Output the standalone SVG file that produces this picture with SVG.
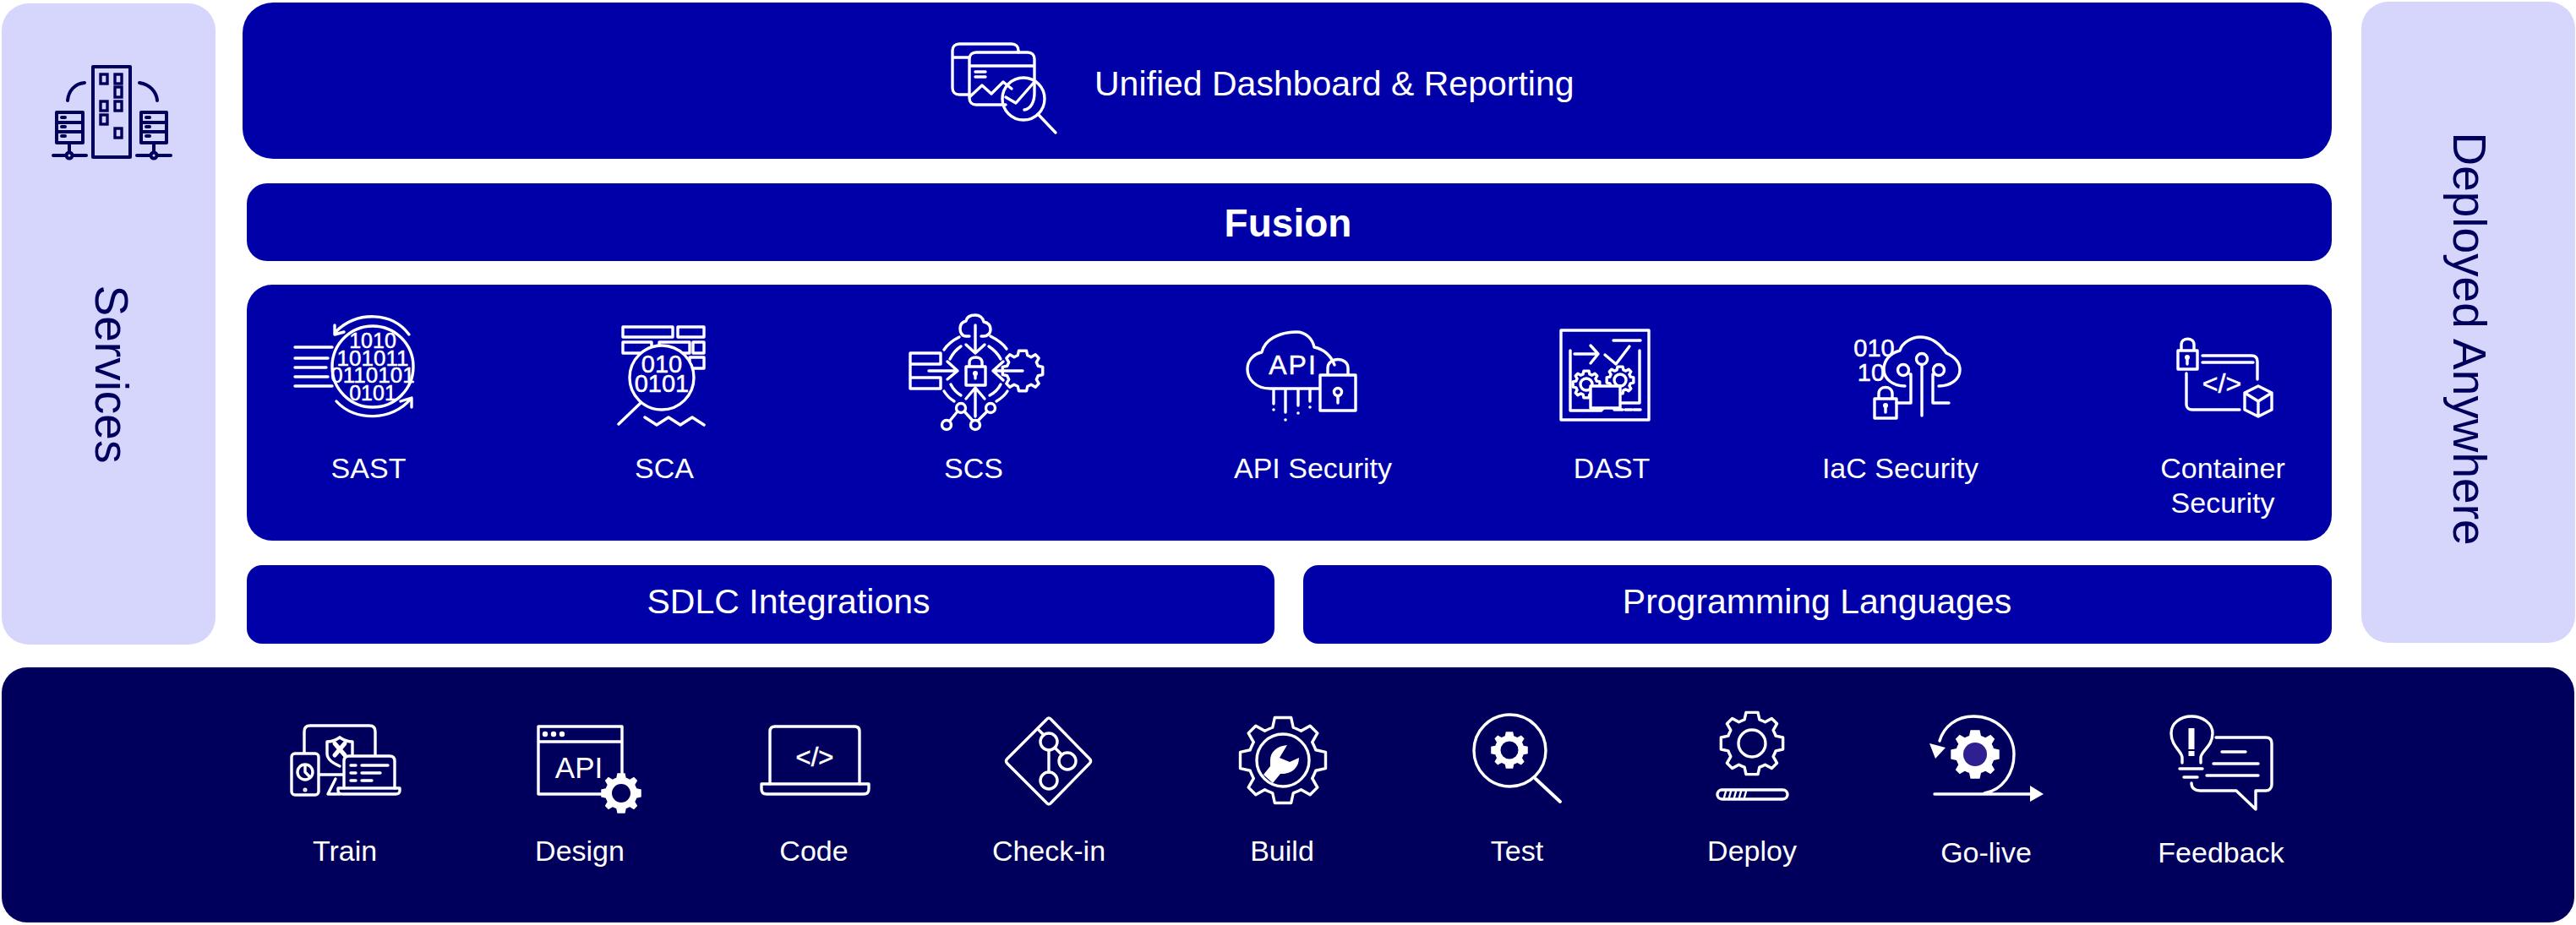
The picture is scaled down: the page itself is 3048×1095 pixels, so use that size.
<svg xmlns="http://www.w3.org/2000/svg" width="3048" height="1095" viewBox="0 0 3048 1095">
<style>
.blue{fill:#0000a8}.dark{fill:#00005c}.lav{fill:#d6d6fd}
text{font-family:"Liberation Sans",Arial,sans-serif}
.lb{fill:#fff;font-size:34px;text-anchor:middle}
.bar{fill:#fff;font-size:41px;text-anchor:middle}
.side{fill:#00005c;font-size:55px;text-anchor:middle}
.dg{fill:#fff;stroke:#fff;stroke-width:.5;text-anchor:middle}
.w{fill:none;stroke:#fff;stroke-width:3.4;stroke-linecap:round;stroke-linejoin:round;vector-effect:non-scaling-stroke}
.wf{fill:#fff;stroke:none}
.n{fill:none;stroke:#00005c;stroke-width:4;stroke-linecap:round;stroke-linejoin:round}
.fd{fill:#00005c}
</style>
<defs>
<path id="gear" vector-effect="non-scaling-stroke" d="M9.9 -1.9L9.9 1.9L7.6 2.4C7.4 3 7.1 3.6 6.8 4.2L8 6.3L6.3 8L4.2 6.8C3.6 7.1 3 7.4 2.4 7.6L1.9 9.9L-1.9 9.9L-2.4 7.6C-3 7.4 -3.6 7.1 -4.2 6.8L-6.3 8L-8 6.3L-6.8 4.2C-7.1 3.6 -7.4 3 -7.6 2.4L-9.9 1.9L-9.9 -1.9L-7.6 -2.4C-7.4 -3 -7.1 -3.6 -6.8 -4.2L-8 -6.3L-6.3 -8L-4.2 -6.8C-3.6 -7.1 -3 -7.4 -2.4 -7.6L-1.9 -9.9L1.9 -9.9L2.4 -7.6C3 -7.4 3.6 -7.1 4.2 -6.8L6.3 -8L8 -6.3L6.8 -4.2C7.1 -3.6 7.4 -3 7.6 -2.4Z"/>
</defs>

<g id="services">
<rect class="lav" x="2" y="4" width="253" height="759" rx="32"/>
<g>
<rect class="n" x="110" y="79" width="44" height="107"/>
<g fill="none" stroke="#00005c" stroke-width="3.4">
<rect x="119" y="88" width="8" height="11"/><rect x="136" y="88" width="8" height="11"/><rect x="136" y="103" width="8" height="12"/><rect x="119" y="120" width="8" height="11"/><rect x="136" y="120" width="8" height="11"/><rect x="119" y="136" width="8" height="11"/><rect x="136" y="152" width="8" height="11"/>
</g>
<rect class="n" x="67" y="133" width="31" height="36"/><path class="n" d="M67 145H98M67 156H98M82 169V180M63 184H78M86 184H102"/><circle class="n" cx="82" cy="184" r="3.5"/>
<rect class="n" x="167" y="133" width="30" height="36"/><path class="n" d="M167 145H197M167 156H197M182 169V180M162 184H178M186 184H202"/><circle class="n" cx="182" cy="184" r="3.5"/>
<path class="n" d="M80 119C81 108 88 99 100 98M165 98C177 100 185 108 186 119"/>
<path class="n" d="M73 139H77M73 150H77M73 161H77M173 139H177M173 150H177M173 161H177"/>
</g>
<text class="side" transform="translate(113 443) rotate(90)">Services</text>
</g>

<g id="deployed-anywhere">
<rect class="lav" x="2794" y="2" width="253" height="759" rx="32"/>
<text class="side" transform="translate(2903 401) rotate(90)">Deployed Anywhere</text>
</g>

<g id="dashboard">
<rect class="blue" x="287" y="3" width="2472" height="185" rx="36"/>
<path class="w" d="M1205 62V60C1205 55 1202 52 1197 52H1135C1130 52 1127 55 1127 60V104C1127 109 1130 112 1135 112H1147M1127 68H1147"/>
<path class="w" d="M1190 124H1155C1150 124 1147 121 1147 116V70C1147 65 1150 62 1155 62H1216C1221 62 1224 65 1224 70V110C1224 120 1220 129 1212 130M1147 78H1224M1154 85H1166M1154 91H1166M1147 115L1162 101L1173 111L1187 97L1197 105"/>
<circle class="w" cx="1211" cy="117" r="25"/>
<path class="w" d="M1190 115L1202 122L1223 98M1228 135L1249 157"/>
<text class="bar" x="1295" y="113" style="text-anchor:start">Unified Dashboard &amp; Reporting</text>
</g>

<g id="fusion">
<rect class="blue" x="292" y="217" width="2467" height="92" rx="24"/>
<text x="1524" y="280" fill="#fff" font-size="46" font-weight="700" text-anchor="middle">Fusion</text>
</g>

<g id="scanners">
<rect class="blue" x="292" y="337" width="2467" height="303" rx="30"/>
</g>

<g id="sast">
<circle class="w" cx="441" cy="434" r="48"/>
<path class="w" d="M349 411H393M349 424H388M349 435H386M349 446H388M349 457H393"/>
<path class="w" d="M484 396C464 369 423 368 398 392M396 385L396 396L407 393"/>
<path class="w" d="M398 475C420 500 465 498 486 472M474 475L487 471L487 482"/>
<text class="dg" font-size="25" x="441" y="412">1010</text>
<text class="dg" font-size="26" x="441" y="433">101011</text>
<text class="dg" font-size="26" x="441" y="453">0110101</text>
<text class="dg" font-size="25" x="441" y="474">0101</text>
<text class="lb" x="436" y="566">SAST</text>
</g>

<g id="sca">
<path class="w" d="M737 387H796V399H737ZM802 387H833V399H802ZM737 405H771V418H737ZM780 405H816V418H780ZM820 405H833V418H820ZM816 423H833V436H816Z"/>
<circle class="w" style="fill:#0000a8" cx="783" cy="447" r="38"/>
<path class="w" d="M758 477L732 502M763 494L777 503L791 494L805 503L819 494L833 503"/>
<text class="dg" font-size="29" x="783" y="441">010</text>
<text class="dg" font-size="29" x="783" y="464">0101</text>
<text class="lb" x="786" y="566">SCA</text>
</g>

<g id="scs">
<path class="w" d="M1147 398H1143C1138 398 1136 393 1136 389C1136 384 1139 381 1143 380C1144 375 1149 373 1154 373C1159 373 1163 376 1164 381C1169 382 1172 385 1172 390C1172 395 1168 398 1164 398H1161"/>
<path class="w" d="M1154 385V418M1143 408L1154 418L1165 408"/>
<path class="w" d="M1143 434H1166V456H1143ZM1147 434V429C1147 421 1162 421 1162 429V434M1154 442V448"/>
<circle class="wf" cx="1154" cy="442" r="3"/>
<path class="w" d="M1077 418H1113V431H1077ZM1077 447H1113V460H1077ZM1077 418V460M1099 439H1133M1121 428L1133 439L1121 449"/>
<use href="#gear" class="w" transform="translate(1210 439) scale(2.4)"/>
<path class="w" d="M1210 439H1175M1187 428L1175 439L1187 450"/>
<path class="w" d="M1154 493V459M1143 472L1154 459L1165 472"/>
<path class="w" d="M1124 498L1133 487M1141 487L1151 498M1157 498L1168 487"/>
<circle class="w" cx="1120" cy="503" r="5.5"/><circle class="w" cx="1137" cy="483" r="5.5"/><circle class="w" cx="1154" cy="503" r="5.5"/><circle class="w" cx="1172" cy="483" r="5.5"/>
<path class="w" d="M1135 399C1127 403 1121 408 1117 414M1172 398C1180 402 1187 407 1191 413M1117 463C1120 468 1124 472 1129 475M1192 463C1189 468 1184 472 1179 475M1137 410C1131 414 1127 419 1124 425M1170 410C1176 414 1181 419 1184 425M1125 455C1128 461 1132 465 1137 468M1184 455C1181 461 1177 465 1171 468"/>
<text class="lb" x="1152" y="566">SCS</text>
</g>

<g id="api-security">
<path class="w" d="M1561 460H1503C1485 460 1476 448 1476 437C1476 427 1483 419 1493 417C1496 403 1512 393 1534 393C1545 393 1553 401 1555 411C1566 413 1575 421 1579 432"/>
<path class="w" d="M1507 461V478M1521 461V488M1536 461V480M1550 461V475"/>
<g class="wf"><circle cx="1507" cy="485" r="1.8"/><circle cx="1521" cy="497" r="1.8"/><circle cx="1536" cy="489" r="1.8"/><circle cx="1550" cy="482" r="1.8"/></g>
<text class="dg" font-size="32" letter-spacing="2" x="1530" y="443">API</text>
<path class="w" d="M1562 444H1604V486H1562ZM1571 444V436C1571 422 1595 422 1595 436V444"/>
<circle class="w" cx="1583" cy="464" r="4.5"/><path class="w" d="M1583 469V477"/>
<text class="lb" x="1553.5" y="566">API Security</text>
</g>

<g id="dast">
<rect class="w" x="1847" y="391" width="104" height="106"/>
<path class="w" d="M1909 403H1941M1858 415V486H1894.5L1903 477H1940V415M1910 485H1920M1923 485H1931M1933 485H1941M1863 419H1891M1882 409L1891 419L1882 430M1899 420L1912 431L1928 410"/>
<use href="#gear" class="w" transform="translate(1877 455) scale(1.6)"/>
<use href="#gear" class="w" transform="translate(1917 450) scale(1.6)"/>
<circle class="w" cx="1877" cy="455" r="7"/><circle class="w" cx="1917" cy="450" r="7"/>
<rect class="w" style="fill:#0000a8" x="1882" y="457" width="35" height="26"/>
<text class="lb" x="1907" y="566">DAST</text>
</g>

<g id="iac-security">
<text class="dg" font-size="29" x="2217.5" y="422">010</text>
<text class="dg" font-size="29" x="2214" y="451">10</text>
<path class="w" d="M2254 457C2240 457 2229 449 2229 437C2229 427 2236 418 2248 415C2250 406 2262 399 2272 399C2284 399 2294 405 2303 418C2312 422 2319 429 2319 438C2319 449 2308 457 2294 457"/>
<circle class="w" cx="2252" cy="438" r="6.5"/><circle class="w" cx="2274" cy="425" r="6.5"/><circle class="w" cx="2294" cy="438" r="6.5"/>
<path class="w" d="M2260 443H2261V477H2244M2274 432V492M2288 443H2287V477H2306"/>
<path class="w" d="M2218 472H2244V495H2218ZM2223 472V466C2223 456 2239 456 2239 466V472"/>
<circle class="wf" cx="2231" cy="480" r="3"/><path class="w" d="M2231 480V488"/>
<text class="lb" x="2248.5" y="566">IaC Security</text>
</g>

<g id="container-security">
<path class="w" d="M2577 415H2600V437H2577ZM2581 415V408C2581 399 2596 399 2596 408V415"/>
<circle class="wf" cx="2588" cy="423" r="3"/><path class="w" d="M2588 423V431"/>
<path class="w" d="M2606 421H2664C2669 421 2671 424 2671 428V449M2606 429H2666M2587 442V479C2587 483 2590 485 2594 485H2650"/>
<text class="dg" font-size="32" x="2629" y="465">&lt;/&gt;</text>
<path class="w" d="M2672 457L2688 465V485L2672 493L2656 485V465ZM2656 465L2672 475L2688 465M2672 475V493"/>
<text class="lb" x="2630" y="566">Container</text>
<text class="lb" x="2630" y="607">Security</text>
</g>

<g id="sdlc-integrations">
<rect class="blue" x="292" y="669" width="1216" height="93" rx="18"/>
<text class="bar" x="933" y="726">SDLC Integrations</text>
</g>
<g id="programming-languages">
<rect class="blue" x="1542" y="669" width="1217" height="93" rx="18"/>
<text class="bar" x="2150" y="726">Programming Languages</text>
</g>

<g id="lifecycle">
<rect class="dark" x="2" y="790" width="3044" height="302" rx="30"/>
</g>

<g id="train">
<path class="w" d="M360 892V866C360 861 363 859 367 859H437C441 859 444 861 444 866V894M376 917H406M397 922L388 940H402"/>
<path class="w" d="M402 873C396 877 391 878 387 878V892C387 900 396 904 402 907"/>
<path class="w" d="M402 873C408 877 413 878 417 878V893"/>
<path class="w" style="stroke-width:5" d="M396 880L408 894M408 880L396 894"/>
<rect class="w" style="fill:#00005c" x="345" y="892" width="32" height="49" rx="4"/>
<circle class="w" cx="361" cy="914" r="9"/><path class="w" d="M361 907V914L366 919"/><circle class="w" style="stroke-width:2" cx="361" cy="935" r="1.5"/>
<path class="w" style="fill:#00005c" d="M407 933V901C407 897 409 895 413 895H461C465 895 467 897 467 901V933"/>
<path class="w" d="M400 933H473V936C473 939 471 940 468 940H405C402 940 400 939 400 936ZM415 906H421M428 906H459M415 915H421M428 915H450M415 924H421M428 924H440"/>
<text class="lb" x="408" y="1019">Train</text>
</g>

<g id="design">
<path class="w" d="M736 916V860H637V940H712M637 878H736"/>
<g class="wf"><circle cx="645" cy="869" r="3.2"/><circle cx="655" cy="869" r="3.2"/><circle cx="665" cy="869" r="3.2"/></g>
<text class="dg" style="stroke:none" font-size="35" x="685" y="921">API</text>
<use href="#gear" class="wf" transform="translate(735 939) scale(2.4)"/>
<circle class="fd" cx="735" cy="939" r="11"/>
<text class="lb" x="686" y="1019">Design</text>
</g>

<g id="code">
<path class="w" d="M911 928V866C911 862 913 860 917 860H1011C1015 860 1017 862 1017 866V928"/>
<path class="w" d="M901 928H1028V934C1028 938 1026 940 1022 940H907C903 940 901 938 901 934Z"/>
<text class="dg" font-size="31" x="964" y="907">&lt;/&gt;</text>
<text class="lb" x="963" y="1019">Code</text>
</g>

<g id="check-in">
<path class="w" d="M1238 852Q1241 848 1244 852L1289 898Q1292 901 1289 904L1244 950Q1241 954 1238 950L1192 904Q1189 901 1192 898Z"/>
<circle class="w" cx="1241" cy="878" r="10"/><circle class="w" cx="1263" cy="901" r="10"/><circle class="w" cx="1241" cy="924" r="10"/>
<path class="w" d="M1228 863L1235 870M1241 888V914M1248 885L1256 893"/>
<text class="lb" x="1241" y="1019">Check-in</text>
</g>

<g id="build">
<use href="#gear" class="w" transform="translate(1518 900) scale(5.1)"/>
<circle class="w" cx="1518" cy="900" r="31"/>
<path class="wf" d="M1523 882C1511 883 1503 890 1503 900C1503 903 1503 905 1503 907L1495 917L1506 927L1515 916C1525 917 1537 911 1537 897L1526 902L1514 897Z"/>
<text class="lb" x="1517" y="1019">Build</text>
</g>

<g id="test">
<circle class="w" cx="1786.5" cy="888.5" r="42.5"/>
<path class="w" d="M1817 922L1846 949" style="stroke-width:4"/>
<use href="#gear" class="wf" transform="translate(1786 888) scale(2.2)"/>
<circle class="fd" cx="1786" cy="888" r="10.5"/>
<text class="lb" x="1795" y="1019">Test</text>
</g>

<g id="deploy">
<use href="#gear" class="w" transform="translate(2073 880) scale(3.7)"/>
<circle class="w" cx="2073" cy="880" r="16"/>
<rect class="w" x="2032" y="935" width="83" height="11" rx="5.5"/>
<path class="w" style="stroke-width:2.4" d="M2040 944L2042 937M2046 944L2048 937M2052 944L2054 937M2058 944L2060 937M2064 944L2066 937"/>
<text class="lb" x="2073" y="1019">Deploy</text>
</g>

<g id="go-live">
<path class="w" d="M2289 940H2404M2348 939C2370 935 2383 915 2383 893C2383 868 2362 848 2335 848C2315 848 2300 860 2295 877"/>
<path class="wf" d="M2402 930L2418 940L2402 949ZM2283 880L2302 885L2290 898Z"/>
<use href="#gear" class="wf" transform="translate(2337 893) scale(2.9)"/>
<circle cx="2337" cy="893" r="14" fill="#2e2090"/>
<text class="lb" x="2350" y="1021">Go-live</text>
</g>

<g id="feedback">
<path class="w" d="M2582 903V897C2582 889 2569 884 2569 868C2569 856 2580 848 2593 848C2606 848 2618 856 2618 868C2618 884 2604 889 2604 897V903M2579 910H2606M2584 920H2600"/>
<path class="w" style="stroke-width:7;stroke-linecap:butt" d="M2593 862V887M2593 889V895"/>
<path class="w" d="M2622 873H2681C2685 873 2688 875 2688 880V929C2688 933 2685 936 2681 936H2669V958L2646 936H2603C2597 936 2593 933 2593 927M2629 890H2657M2619 904H2672M2611 918H2672"/>
<text class="lb" x="2628" y="1021">Feedback</text>
</g>
</svg>
